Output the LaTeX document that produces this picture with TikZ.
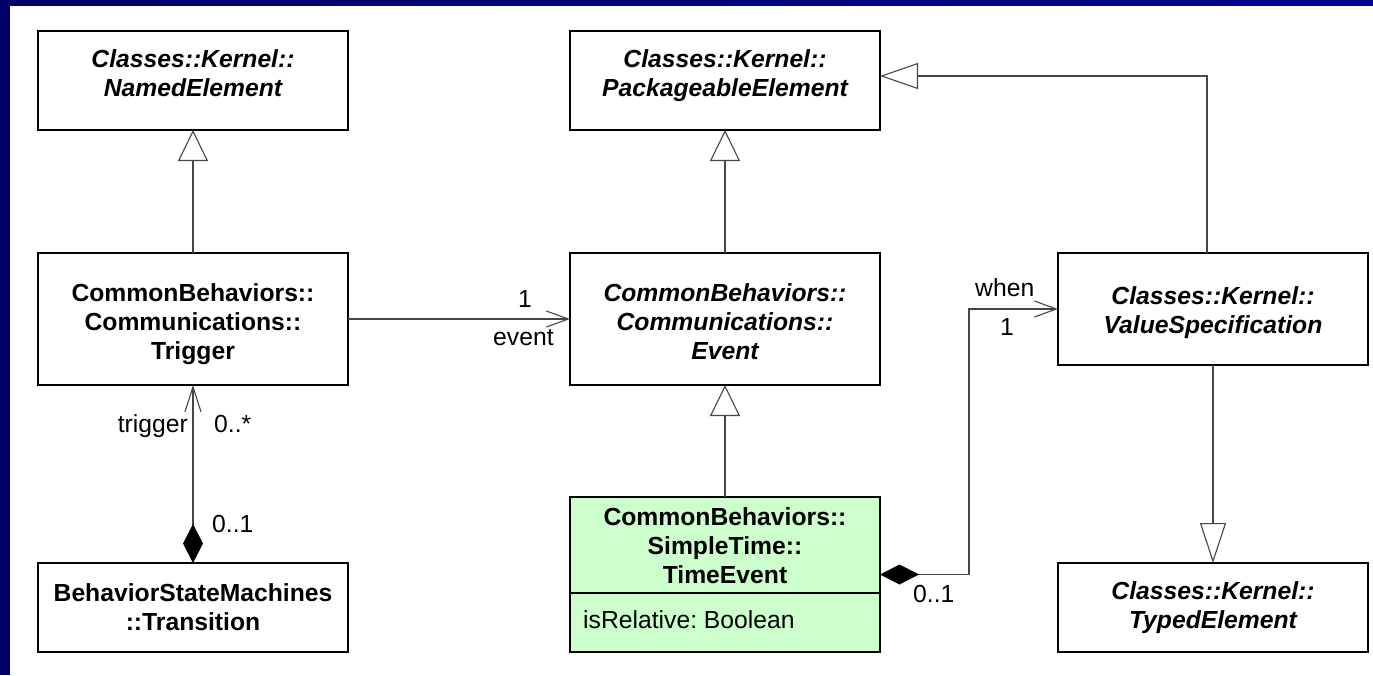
\documentclass[tikz,border=0pt]{standalone}
\usepackage{fontspec}
\setmainfont{Liberation Sans}
\usetikzlibrary{arrows.meta}
\definecolor{navyedge}{RGB}{0,0,102}
\definecolor{navyedgeR}{RGB}{0,0,150}
\definecolor{timegreen}{RGB}{204,255,204}
\definecolor{wire}{RGB}{70,70,70}
\frenchspacing

\begin{document}
\begin{tikzpicture}[x=1pt,y=-1pt,
  umlbox/.style={draw=black, line width=1.3pt, fill=white, inner sep=0pt, outer sep=0pt, minimum width=310pt},
  classname/.style={inner sep=0pt, anchor=north, align=center, font=\fontsize{24.7}{29}\selectfont\bfseries},
  abstractname/.style={classname, font=\fontsize{24.7}{29}\selectfont\bfseries\itshape},
  mult/.style={inner sep=0pt, font=\fontsize{24.7}{29}\selectfont},
  wireline/.style={draw=wire, line width=1.1pt},
  genarrow/.style={wireline, -{Triangle[fill=white, length=31pt, width=30pt]}},
  genside/.style={wireline, -{Triangle[fill=white, length=38pt, width=26pt]}},
  gendown/.style={wireline, -{Triangle[fill=white, length=40pt, width=26pt]}},
  navtip/.tip={Straight Barb[length=22pt, width=16pt]},
  comptip/.tip={Diamond[length=39pt, width=20pt, fill=black, color=black]}
]
\useasboundingbox (0,0) rectangle (1373,675);

% frame strips
\fill[navyedge] (0,0) rectangle (10,675);
\shade[left color=navyedge, right color=navyedgeR] (0,0) rectangle (1373,5);

% class boxes
\node[umlbox, minimum height=99pt]  (ne) at (193,80.5) {};
\node[umlbox, minimum height=99pt]  (pe) at (725,80.5) {};
\node[umlbox, minimum height=132pt] (tr) at (193,319) {};
\node[umlbox, minimum height=132pt] (ev) at (725,319) {};
\node[umlbox, minimum height=112pt] (vs) at (1213,309) {};
\node[umlbox, minimum height=155pt, fill=timegreen] (te) at (725,574.5) {};
\node[umlbox, minimum height=89pt]  (tn) at (193,607.5) {};
\node[umlbox, minimum height=89pt]  (ty) at (1213,607.5) {};

% attribute compartment of TimeEvent
\coordinate (divy) at (0,593);
\draw[line width=1.3pt] (te.west |- divy) -- (te.east |- divy);

% class names
\node[abstractname] (ne-t) at (193,46.7)  {\strut Classes::Kernel::\\NamedElement};
\node[abstractname] (pe-t) at (725,46.7)  {\strut Classes::Kernel::\\PackageableElement};
\node[classname]    (tr-t) at (193,280.7) {\strut CommonBehaviors::\\Communications::\\Trigger};
\node[abstractname] (ev-t) at (725,280.7) {\strut CommonBehaviors::\\Communications::\\Event};
\node[abstractname] (vs-t) at (1213,283.7) {\strut Classes::Kernel::\\ValueSpecification};
\node[classname]    (te-t) at (725,504.7) {\strut CommonBehaviors::\\SimpleTime::\\TimeEvent};
\node[classname]    (tn-t) at (193,580.7) {\strut BehaviorStateMachines\\::Transition};
\node[abstractname] (ty-t) at (1213,578.7) {\strut Classes::Kernel::\\TypedElement};
\node[mult, anchor=base west] (attr) at (583,628) {isRelative: Boolean};

% generalizations
\draw[genarrow] (tr) -- (ne);
\draw[genarrow] (ev) -- (pe);
\draw[genarrow] (te) -- (ev);
\draw[gendown] (vs) -- (ty);
\draw[genside] ([xshift=-6pt]vs.north) |- ([yshift=4.5pt]pe.east);

% associations
\draw[wireline, -navtip] (tr) -- (ev);
\draw[wireline, comptip-{Straight Barb[length=25pt, width=16pt]}] (tn) -- (tr);
\coordinate (elbow) at (969,574.5);
\draw[wireline, comptip-navtip] (te.east) -- (elbow) |- (vs.west);

% association ends
\node[mult, anchor=base west] (ev-mult) at (518,307) {1};
\node[mult, anchor=base west] (ev-role) at (493,345) {event};
\node[mult, anchor=base east] (tr-role) at (188,432) {trigger};
\node[mult, anchor=base west] (tr-mult) at (214,432) {0..*};
\node[mult, anchor=base west] (tn-mult) at (212,532) {0..1};
\node[mult, anchor=base west] (vs-role) at (975,296) {when};
\node[mult, anchor=base west] (vs-mult) at (1000,335) {1};
\node[mult, anchor=base west] (te-mult) at (913,602) {0..1};
\end{tikzpicture}
\end{document}
